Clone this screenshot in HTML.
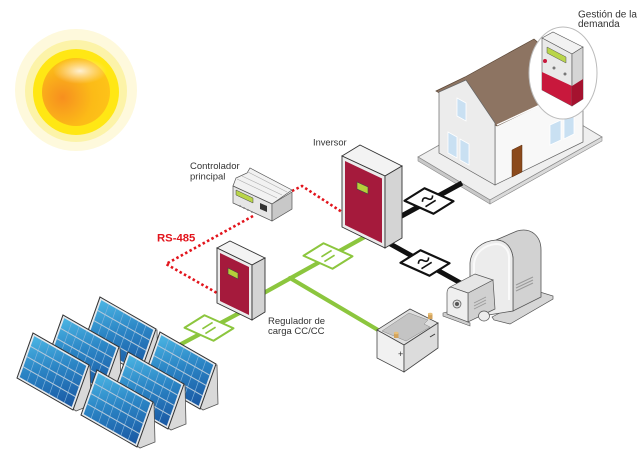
<!DOCTYPE html>
<html><head><meta charset="utf-8"><style>
html,body{margin:0;padding:0;background:#fff;}
svg{display:block;}
text{font-family:"Liberation Sans",Arial,sans-serif;}
</style></head><body>
<svg width="640" height="461" viewBox="0 0 640 461" xmlns="http://www.w3.org/2000/svg">
<defs>
 <radialGradient id="sb" cx="0.3" cy="0.58" r="0.75">
  <stop offset="0" stop-color="#f78f1e"/>
  <stop offset="0.3" stop-color="#f9a51c"/>
  <stop offset="0.6" stop-color="#fcbb17"/>
  <stop offset="1" stop-color="#fec419"/>
 </radialGradient>
 <radialGradient id="sh" cx="0.5" cy="0.5" r="0.5">
  <stop offset="0" stop-color="#fff3dc" stop-opacity="0.95"/>
  <stop offset="1" stop-color="#ffe6bf" stop-opacity="0"/>
 </radialGradient>
 <linearGradient id="pg" x1="0" y1="0" x2="1" y2="1">
  <stop offset="0" stop-color="#4bb5e3"/>
  <stop offset="0.45" stop-color="#2b85c5"/>
  <stop offset="1" stop-color="#1a58a3"/>
 </linearGradient>
 <g id="pn">
  <rect x="0" y="0" width="56" height="45" fill="#e4e9ee" stroke="#333" stroke-width="0.9"/>
  <rect x="2" y="2" width="52" height="41" fill="url(#pg)"/>
  <g stroke="#7fb2dc" stroke-width="0.6">
   <line x1="9.43" y1="2" x2="9.43" y2="43"/><line x1="16.86" y1="2" x2="16.86" y2="43"/>
   <line x1="24.29" y1="2" x2="24.29" y2="43"/><line x1="31.71" y1="2" x2="31.71" y2="43"/>
   <line x1="39.14" y1="2" x2="39.14" y2="43"/><line x1="46.57" y1="2" x2="46.57" y2="43"/>
  </g>
  <g stroke="#b3c8da" stroke-width="1">
   <line x1="2" y1="12.25" x2="54" y2="12.25"/><line x1="2" y1="22.5" x2="54" y2="22.5"/>
   <line x1="2" y1="32.75" x2="54" y2="32.75"/>
  </g>
 </g>
</defs>

<!-- Sun -->
<circle cx="76" cy="90" r="61" fill="#fef9dc"/>
<circle cx="76" cy="91" r="51" fill="#fcf3a8"/>
<circle cx="76" cy="92" r="43" fill="#ffe714"/>
<circle cx="76" cy="92" r="34" fill="url(#sb)"/>
<ellipse cx="80" cy="71" rx="27" ry="13" fill="url(#sh)"/>

<!-- House platform -->
<polygon points="418,157 530,94 602,137 490,200" fill="#efefef" stroke="#888" stroke-width="0.8"/>
<polygon points="418,157 490,200 490,204 418,161" fill="#c9c9c9" stroke="#888" stroke-width="0.6"/>
<polygon points="490,200 602,137 602,141 490,204" fill="#dadada" stroke="#888" stroke-width="0.6"/>
<!-- Front long wall -->
<polygon points="495,123 583,84 583,142 495,185" fill="#f8f8f8" stroke="#666" stroke-width="0.7"/>
<!-- Roof -->
<polygon points="436,91 465,77 534,39 585,83 497,126" fill="#8d7462" stroke="#5a4636" stroke-width="0.7"/>
<line x1="497" y1="125" x2="585" y2="84" stroke="#fff" stroke-width="1.3"/>
<!-- Gable wall -->
<polygon points="439,153 439,92 466,80 495,123 495,185" fill="#ececec" stroke="#666" stroke-width="0.7"/>
<!-- windows -->
<g fill="#c9e0f2" stroke="#fff" stroke-width="0.8">
 <polygon points="457,98 466,103 466,121 457,116"/>
 <polygon points="448,132 457,137 457,158 448,153"/>
 <polygon points="460,139 469,144 469,165 460,160"/>
 <polygon points="550,125 561,120 561,140 550,145"/>
 <polygon points="564,119 574,114 574,134 564,139"/>
</g>
<polygon points="512,150 522,145 522,172 512,177" fill="#8b4a1c" stroke="#5a2e10" stroke-width="0.5"/>

<!-- Meter circle -->
<ellipse cx="563" cy="73" rx="34" ry="46" fill="#fff" stroke="#bbb" stroke-width="1"/>
<polygon points="542,38 553,32 583,47 572,54" fill="#f2f2f2" stroke="#555" stroke-width="0.6"/>
<polygon points="542,38 572,54 572,106 542,90" fill="#e9e9e9" stroke="#555" stroke-width="0.6"/>
<polygon points="542,72 572,86 572,106 542,90" fill="#c8183c"/>
<polygon points="572,54 583,47 583,99 572,106" fill="#d5d5d5" stroke="#555" stroke-width="0.6"/>
<polygon points="572,86 583,79 583,99 572,106" fill="#a5122f"/>
<polygon points="547,47 566,57 566,63 547,53" fill="#b9d54a" stroke="#555" stroke-width="0.5"/>
<circle cx="545" cy="61" r="2" fill="#c8183c"/>
<circle cx="554" cy="68" r="1.5" fill="#777"/>
<circle cx="565" cy="74" r="1.5" fill="#777"/>
<text x="578" y="17.5" font-size="10" fill="#333">Gestión de la</text>
<text x="578" y="27" font-size="10" fill="#333">demanda</text>

<!-- Black AC lines -->
<line x1="396" y1="219" x2="462" y2="183" stroke="#111" stroke-width="5"/>
<line x1="385" y1="241" x2="466" y2="286" stroke="#111" stroke-width="5"/>

<!-- Green DC lines -->
<g stroke="#8cc63e" stroke-width="4.2" fill="none" stroke-linecap="round">
 <line x1="370" y1="234" x2="262" y2="294"/>
 <line x1="290" y1="278" x2="378" y2="330"/>
 <line x1="245" y1="310" x2="170" y2="350"/>
</g>

<!-- Red dotted RS-485 -->
<g stroke="#e2141c" stroke-width="2.6" stroke-dasharray="2.5 2.5" fill="none">
 <polyline points="253,216 166,264 217,293"/>
 <polyline points="292,191 302,186 342,212"/>
</g>

<!-- Generator -->
<polygon points="492,317 540,292 553,296 553,299 510,324 494,320" fill="#d6d6d6" stroke="#555" stroke-width="0.7"/>
<path d="M496,240 L517,231 C531,227 541,236 541,250 L541,297 L513,311 L513,258 C512,248 506,240 496,240 Z" fill="#d2d2d2" stroke="#555" stroke-width="0.8"/>
<path d="M470,318 L470,263 C471,250 482,241 496,240 C506,240 512,248 513,258 L513,311 Z" fill="#ececec" stroke="#555" stroke-width="0.8"/>
<path d="M474,300 L474,264 C475,253 484,245 496,244 C504,244 509,250 509,258 L509,300" stroke="#fafafa" stroke-width="2" fill="none"/>
<g stroke="#9a9a9a" stroke-width="1">
 <line x1="516" y1="291" x2="533" y2="283"/><line x1="516" y1="288" x2="533" y2="280"/><line x1="516" y1="285" x2="533" y2="277"/>
</g>
<polygon points="443,313 447,312 470,323 470,326 443,316" fill="#cfcfcf" stroke="#555" stroke-width="0.6"/>
<polygon points="468,293 493,280 495,309 468,322" fill="#d0d0d0" stroke="#555" stroke-width="0.7"/>
<polygon points="450,287 468,293 493,280 475,274" fill="#e6e6e6" stroke="#555" stroke-width="0.7"/>
<path d="M447,314 L447,293 Q447,288 451,287 L468,293 L468,322 Z" fill="#efefef" stroke="#555" stroke-width="0.7"/>
<circle cx="457" cy="304" r="4" fill="#ddd" stroke="#555" stroke-width="0.7"/>
<circle cx="457" cy="304" r="2" fill="#555"/>
<g stroke="#999" stroke-width="0.9">
 <line x1="474" y1="303" x2="486" y2="297"/><line x1="474" y1="306" x2="486" y2="300"/><line x1="474" y1="309" x2="486" y2="303"/>
</g>
<ellipse cx="484" cy="316" rx="5.5" ry="5" fill="#eee" stroke="#555" stroke-width="0.7"/>

<!-- Battery -->
<polygon points="377,330 410,309 438,323 404,345" fill="#e0e0e0" stroke="#444" stroke-width="0.8"/>
<polygon points="382,331 409,313 428,320 424,324 430,327 406,341" fill="#c4c4c4" stroke="#888" stroke-width="0.5"/>
<polygon points="377,330 404,345 404,372 377,358" fill="#f1f1f1" stroke="#444" stroke-width="0.8"/>
<polygon points="404,345 438,323 438,348 404,372" fill="#dcdcdc" stroke="#444" stroke-width="0.8"/>
<rect x="394" y="333" width="4.5" height="5" fill="#d3a35b"/><ellipse cx="396.2" cy="333" rx="2.3" ry="1.2" fill="#e8c07a"/>
<rect x="428" y="314" width="4.5" height="5" fill="#d3a35b"/><ellipse cx="430.2" cy="314" rx="2.3" ry="1.2" fill="#e8c07a"/>
<text x="398" y="357" font-size="9" fill="#333">+</text>
<line x1="430" y1="337" x2="435" y2="334" stroke="#333" stroke-width="1"/>

<!-- Controller -->
<polygon points="233,186 236,178 247,173 250,168 292,190 272,204" fill="#f2f2f2" stroke="#555" stroke-width="0.7"/>
<g stroke="#aaa" stroke-width="0.6">
 <line x1="237" y1="179" x2="277" y2="198"/><line x1="242" y1="176" x2="282" y2="195"/><line x1="248" y1="172" x2="287" y2="192"/>
</g>
<polygon points="233,186 272,204 272,221 233,203" fill="#e6e6e6" stroke="#555" stroke-width="0.7"/>
<polygon points="272,204 292,192 292,209 272,221" fill="#c8c8c8" stroke="#555" stroke-width="0.7"/>
<polygon points="236,190 253,198 253,203 236,195" fill="#b9d54a" stroke="#444" stroke-width="0.5"/>
<g fill="#777"><circle cx="240" cy="206" r="0.9"/><circle cx="244" cy="208" r="0.9"/><circle cx="248" cy="210" r="0.9"/><circle cx="252" cy="212" r="0.9"/></g>
<polygon points="260,203 267,206 267,212 260,209" fill="#333"/>

<!-- Inverter -->
<polygon points="342,156 360,145 402,166 385,176" fill="#f3f3f3" stroke="#333" stroke-width="0.9"/>
<polygon points="342,156 385,176 385,248 342,227" fill="#ececec" stroke="#333" stroke-width="0.9"/>
<polygon points="385,176 402,166 402,238 385,248" fill="#d4d4d4" stroke="#333" stroke-width="0.9"/>
<polygon points="345,161 382,178.5 382,243 345,225" fill="#a51a3c"/>
<polygon points="357,182 368,187 368,194 357,189" fill="#b5cf3a" stroke="#444" stroke-width="0.6"/>

<!-- Regulator -->
<polygon points="217,248 230,241 265,258 252,265" fill="#f3f3f3" stroke="#333" stroke-width="0.9"/>
<polygon points="217,248 252,265 252,320 217,303" fill="#ececec" stroke="#333" stroke-width="0.9"/>
<polygon points="252,265 265,258 265,312 252,320" fill="#d4d4d4" stroke="#333" stroke-width="0.9"/>
<polygon points="220,253 249,267 249,315 220,301" fill="#a51a3c"/>
<polygon points="228,268 238,273 238,279 228,274" fill="#b5cf3a" stroke="#444" stroke-width="0.6"/>

<!-- AC boxes -->
<g fill="#fff" stroke="#111" stroke-width="2.2" stroke-linejoin="round">
 <polygon points="404.5,200.75 424.5,188.25 453.5,201.25 433.5,213.75"/>
 <polygon points="400.5,262.75 420.5,250.25 449.5,263.25 429.5,275.75"/>
</g>
<g fill="none" stroke="#111" stroke-width="1.6">
 <g transform="translate(429,201) rotate(-32)"><path d="M-6,-2.8 c2,-3 4,-3 6,0 s4,3 6,0"/><line x1="-6" y1="3" x2="6" y2="3"/></g>
 <g transform="translate(425,263) rotate(-32)"><path d="M-6,-2.8 c2,-3 4,-3 6,0 s4,3 6,0"/><line x1="-6" y1="3" x2="6" y2="3"/></g>
</g>
<!-- DC boxes -->
<g fill="#fff" stroke="#8cc63e" stroke-width="2" stroke-linejoin="round">
 <polygon points="303.5,255.75 323.5,243.25 352.5,256.25 332.5,268.75"/>
 <polygon points="184.5,327.75 204.5,315.25 233.5,328.25 213.5,340.75"/>
</g>
<g stroke="#8cc63e" stroke-width="1.7">
 <g transform="translate(328,256) rotate(-32)"><line x1="-6" y1="-2.8" x2="6" y2="-2.8"/><line x1="-6" y1="2.8" x2="6" y2="2.8"/></g>
 <g transform="translate(209,328) rotate(-32)"><line x1="-6" y1="-2.8" x2="6" y2="-2.8"/><line x1="-6" y1="2.8" x2="6" y2="2.8"/></g>
</g>

<!-- Solar panels -->
<g fill="#d9d9d9" stroke="#555" stroke-width="0.8">
 <polygon points="154,330 157,330 158,369 143,375 140,373"/>
</g>
<use href="#pn" transform="matrix(1,0.5714,-0.3556,1,100,297)"/>
<polygon points="214,365 217,365 218,404 203,410 200,408" fill="#d9d9d9" stroke="#555" stroke-width="0.8"/>
<use href="#pn" transform="matrix(1,0.5714,-0.3556,1,160,332)"/>
<polygon points="117,348 120,348 121,387 106,393 103,391" fill="#d9d9d9" stroke="#555" stroke-width="0.8"/>
<use href="#pn" transform="matrix(1,0.5714,-0.3556,1,63,315)"/>
<polygon points="182,385 185,385 186,424 171,430 168,428" fill="#d9d9d9" stroke="#555" stroke-width="0.8"/>
<use href="#pn" transform="matrix(1,0.5714,-0.3556,1,128,352)"/>
<polygon points="87,366 90,366 91,405 76,411 73,409" fill="#d9d9d9" stroke="#555" stroke-width="0.8"/>
<use href="#pn" transform="matrix(1,0.5714,-0.3556,1,33,333)"/>
<polygon points="151,403 154,403 155,442 140,448 137,446" fill="#d9d9d9" stroke="#555" stroke-width="0.8"/>
<use href="#pn" transform="matrix(1,0.5714,-0.3556,1,97,370)"/>

<!-- Labels -->
<text x="190" y="169" font-size="9.5" fill="#333">Controlador</text>
<text x="190" y="179.5" font-size="9.5" fill="#333">principal</text>
<text x="313" y="145.5" font-size="9.3" fill="#333">Inversor</text>
<text x="157" y="241.5" font-size="11.3" font-weight="bold" fill="#e2141c">RS-485</text>
<text x="268" y="324" font-size="9.5" fill="#333">Regulador de</text>
<text x="268" y="334" font-size="9.5" fill="#333">carga CC/CC</text>
</svg>
</body></html>
